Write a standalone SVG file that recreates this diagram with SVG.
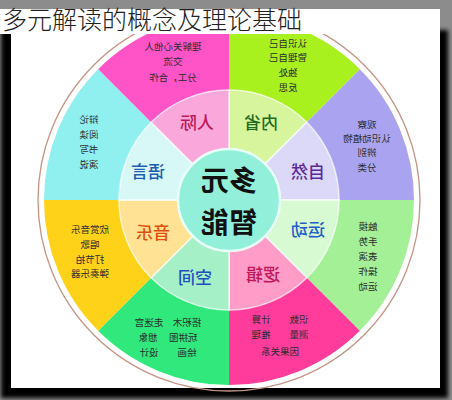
<svg xmlns="http://www.w3.org/2000/svg" width="452" height="400" viewBox="0 0 452 400">
<defs>
<filter id="blur" x="-10%" y="-10%" width="120%" height="120%"><feGaussianBlur stdDeviation="2"/></filter>
<style>
.cjk{font-family:"Noto Sans CJK SC","Noto Sans CJK TC",sans-serif}
.title{font-size:25px;fill:#222;font-weight:300}
.out{font-size:9.5px;text-anchor:middle;fill:#2d2d2d}
.inn{font-size:17px;text-anchor:middle;font-weight:500}
.ctr{font-size:28px;text-anchor:middle;fill:#111;font-weight:700}
.sep{stroke:#ffffff;stroke-width:1.5;stroke-opacity:0.7}
</style>
</defs>
<rect x="0" y="0" width="452" height="400" fill="#8c8c8c"/>
<rect x="1" y="30" width="447" height="368" fill="#000" filter="url(#blur)"/>
<rect x="11" y="9" width="429" height="379" fill="#ffffff"/>
<g id="wheel">
<g id="outer">
<path d="M229,200 L229,15 A185,185 0 0 1 359.8,69.2 Z" fill="#a8f01e"/>
<path d="M229,200 L359.8,69.2 A185,185 0 0 1 414,200 Z" fill="#aaa4f0"/>
<path d="M229,200 L414,200 A185,185 0 0 1 359.8,330.8 Z" fill="#a4f096"/>
<path d="M229,200 L359.8,330.8 A185,185 0 0 1 229,385 Z" fill="#ff3c9c"/>
<path d="M229,200 L229,385 A185,185 0 0 1 98.2,330.8 Z" fill="#30e87c"/>
<path d="M229,200 L98.2,330.8 A185,185 0 0 1 44,200 Z" fill="#ffd21a"/>
<path d="M229,200 L44,200 A185,185 0 0 1 98.2,69.2 Z" fill="#90f0f0"/>
<path d="M229,200 L98.2,69.2 A185,185 0 0 1 229,15 Z" fill="#ff54c8"/>
</g>
<circle cx="229" cy="200" r="191" fill="none" stroke="#c49484" stroke-width="1.3"/>
<g id="inner">
<path class="sep" d="M229,200 L229,90 A110,110 0 0 1 306.8,122.2 Z" fill="#d6f59c"/>
<path class="sep" d="M229,200 L306.8,122.2 A110,110 0 0 1 339,200 Z" fill="#dcd8f8"/>
<path class="sep" d="M229,200 L339,200 A110,110 0 0 1 306.8,277.8 Z" fill="#d8fad2"/>
<path class="sep" d="M229,200 L306.8,277.8 A110,110 0 0 1 229,310 Z" fill="#ff9cc8"/>
<path class="sep" d="M229,200 L229,310 A110,110 0 0 1 151.2,277.8 Z" fill="#a6f0c8"/>
<path class="sep" d="M229,200 L151.2,277.8 A110,110 0 0 1 119,200 Z" fill="#ffe294"/>
<path class="sep" d="M229,200 L119,200 A110,110 0 0 1 151.2,122.2 Z" fill="#d8f8f8"/>
<path class="sep" d="M229,200 L151.2,122.2 A110,110 0 0 1 229,90 Z" fill="#faa8dc"/>
</g>
<circle cx="229" cy="200" r="51" fill="#92f0da" stroke="#e8fff8" stroke-width="2.5"/>
</g>
<g id="center" class="cjk">
<text class="ctr" transform="translate(229,191) scale(-1,1)">多元</text>
<text class="ctr" transform="translate(229,233) scale(-1,1)">智能</text>
</g>
<g id="n-renji" class="cjk">
<text class="inn" fill="#c0185c" transform="translate(197,129) scale(-1,1)">人际</text>
<text class="out" fill="#4a1838" transform="translate(173,50) scale(-1,1)">理解关心他人</text>
<text class="out" fill="#4a1838" transform="translate(173,65) scale(-1,1)">交流</text>
<text class="out" fill="#4a1838" transform="translate(173,81) scale(-1,1)">分工，合作</text>
</g>
<g id="n-neixing" class="cjk">
<text class="inn" fill="#1e6a1e" transform="translate(261,129) scale(-1,1)">内省</text>
<text class="out" fill="#2a4a2a" transform="translate(288,47) scale(-1,1)">认识自己</text>
<text class="out" fill="#2a4a2a" transform="translate(288,61) scale(-1,1)">管理自己</text>
<text class="out" fill="#2a4a2a" transform="translate(288,76) scale(-1,1)">独处</text>
<text class="out" fill="#2a4a2a" transform="translate(288,91) scale(-1,1)">反思</text>
</g>
<g id="n-ziran" class="cjk">
<text class="inn" fill="#5a2a9a" transform="translate(308,178) scale(-1,1)">自然</text>
<text class="out" transform="translate(367,128) scale(-1,1)">观察</text>
<text class="out" transform="translate(367,142) scale(-1,1)">认识动植物</text>
<text class="out" transform="translate(367,156) scale(-1,1)">辨别</text>
<text class="out" transform="translate(367,171) scale(-1,1)">分类</text>
</g>
<g id="n-yundong" class="cjk">
<text class="inn" fill="#1e5ec8" transform="translate(308,236) scale(-1,1)">运动</text>
<text class="out" transform="translate(368,230) scale(-1,1)">触摸</text>
<text class="out" transform="translate(368,245) scale(-1,1)">手势</text>
<text class="out" transform="translate(368,260) scale(-1,1)">表演</text>
<text class="out" transform="translate(368,275) scale(-1,1)">操作</text>
<text class="out" transform="translate(368,290) scale(-1,1)">运动</text>
</g>
<g id="n-luoji" class="cjk">
<text class="inn" fill="#c0185c" transform="translate(263,281) scale(-1,1)">逻辑</text>
<text class="out" fill="#4a1030" transform="translate(280,323) scale(-1,1)">识数　　计算</text>
<text class="out" fill="#4a1030" transform="translate(280,338) scale(-1,1)">测量　　推理</text>
<text class="out" fill="#4a1030" transform="translate(280,355) scale(-1,1)">因果关系</text>
</g>
<g id="n-kongjian" class="cjk">
<text class="inn" fill="#1e50c0" transform="translate(195,284) scale(-1,1)">空间</text>
<text class="out" fill="#1a3a1a" transform="translate(168,326) scale(-1,1)">搭积木　走迷宫</text>
<text class="out" fill="#1a3a1a" transform="translate(168,341) scale(-1,1)">玩拼图　 想象</text>
<text class="out" fill="#1a3a1a" transform="translate(168,356) scale(-1,1)">绘画　　设计</text>
</g>
<g id="n-yinyue" class="cjk">
<text class="inn" fill="#e0500c" transform="translate(153,239) scale(-1,1)">音乐</text>
<text class="out" fill="#3a2a08" transform="translate(90,233) scale(-1,1)">欣赏音乐</text>
<text class="out" fill="#3a2a08" transform="translate(90,248) scale(-1,1)">唱歌</text>
<text class="out" fill="#3a2a08" transform="translate(90,263) scale(-1,1)">打节拍</text>
<text class="out" fill="#3a2a08" transform="translate(90,277) scale(-1,1)">弹奏乐器</text>
</g>
<g id="n-yuyan" class="cjk">
<text class="inn" fill="#1e5eb0" transform="translate(148,178) scale(-1,1)">语言</text>
<text class="out" fill="#1a3a3a" transform="translate(89,123) scale(-1,1)">辩论</text>
<text class="out" fill="#1a3a3a" transform="translate(89,138) scale(-1,1)">阅读</text>
<text class="out" fill="#1a3a3a" transform="translate(89,153) scale(-1,1)">书写</text>
<text class="out" fill="#1a3a3a" transform="translate(89,168) scale(-1,1)">演说</text>
</g>
<rect x="0" y="9" width="440" height="25" fill="#ffffff"/>
<text class="cjk title" x="2" y="29">多元解读的概念及理论基础</text>
</svg>
